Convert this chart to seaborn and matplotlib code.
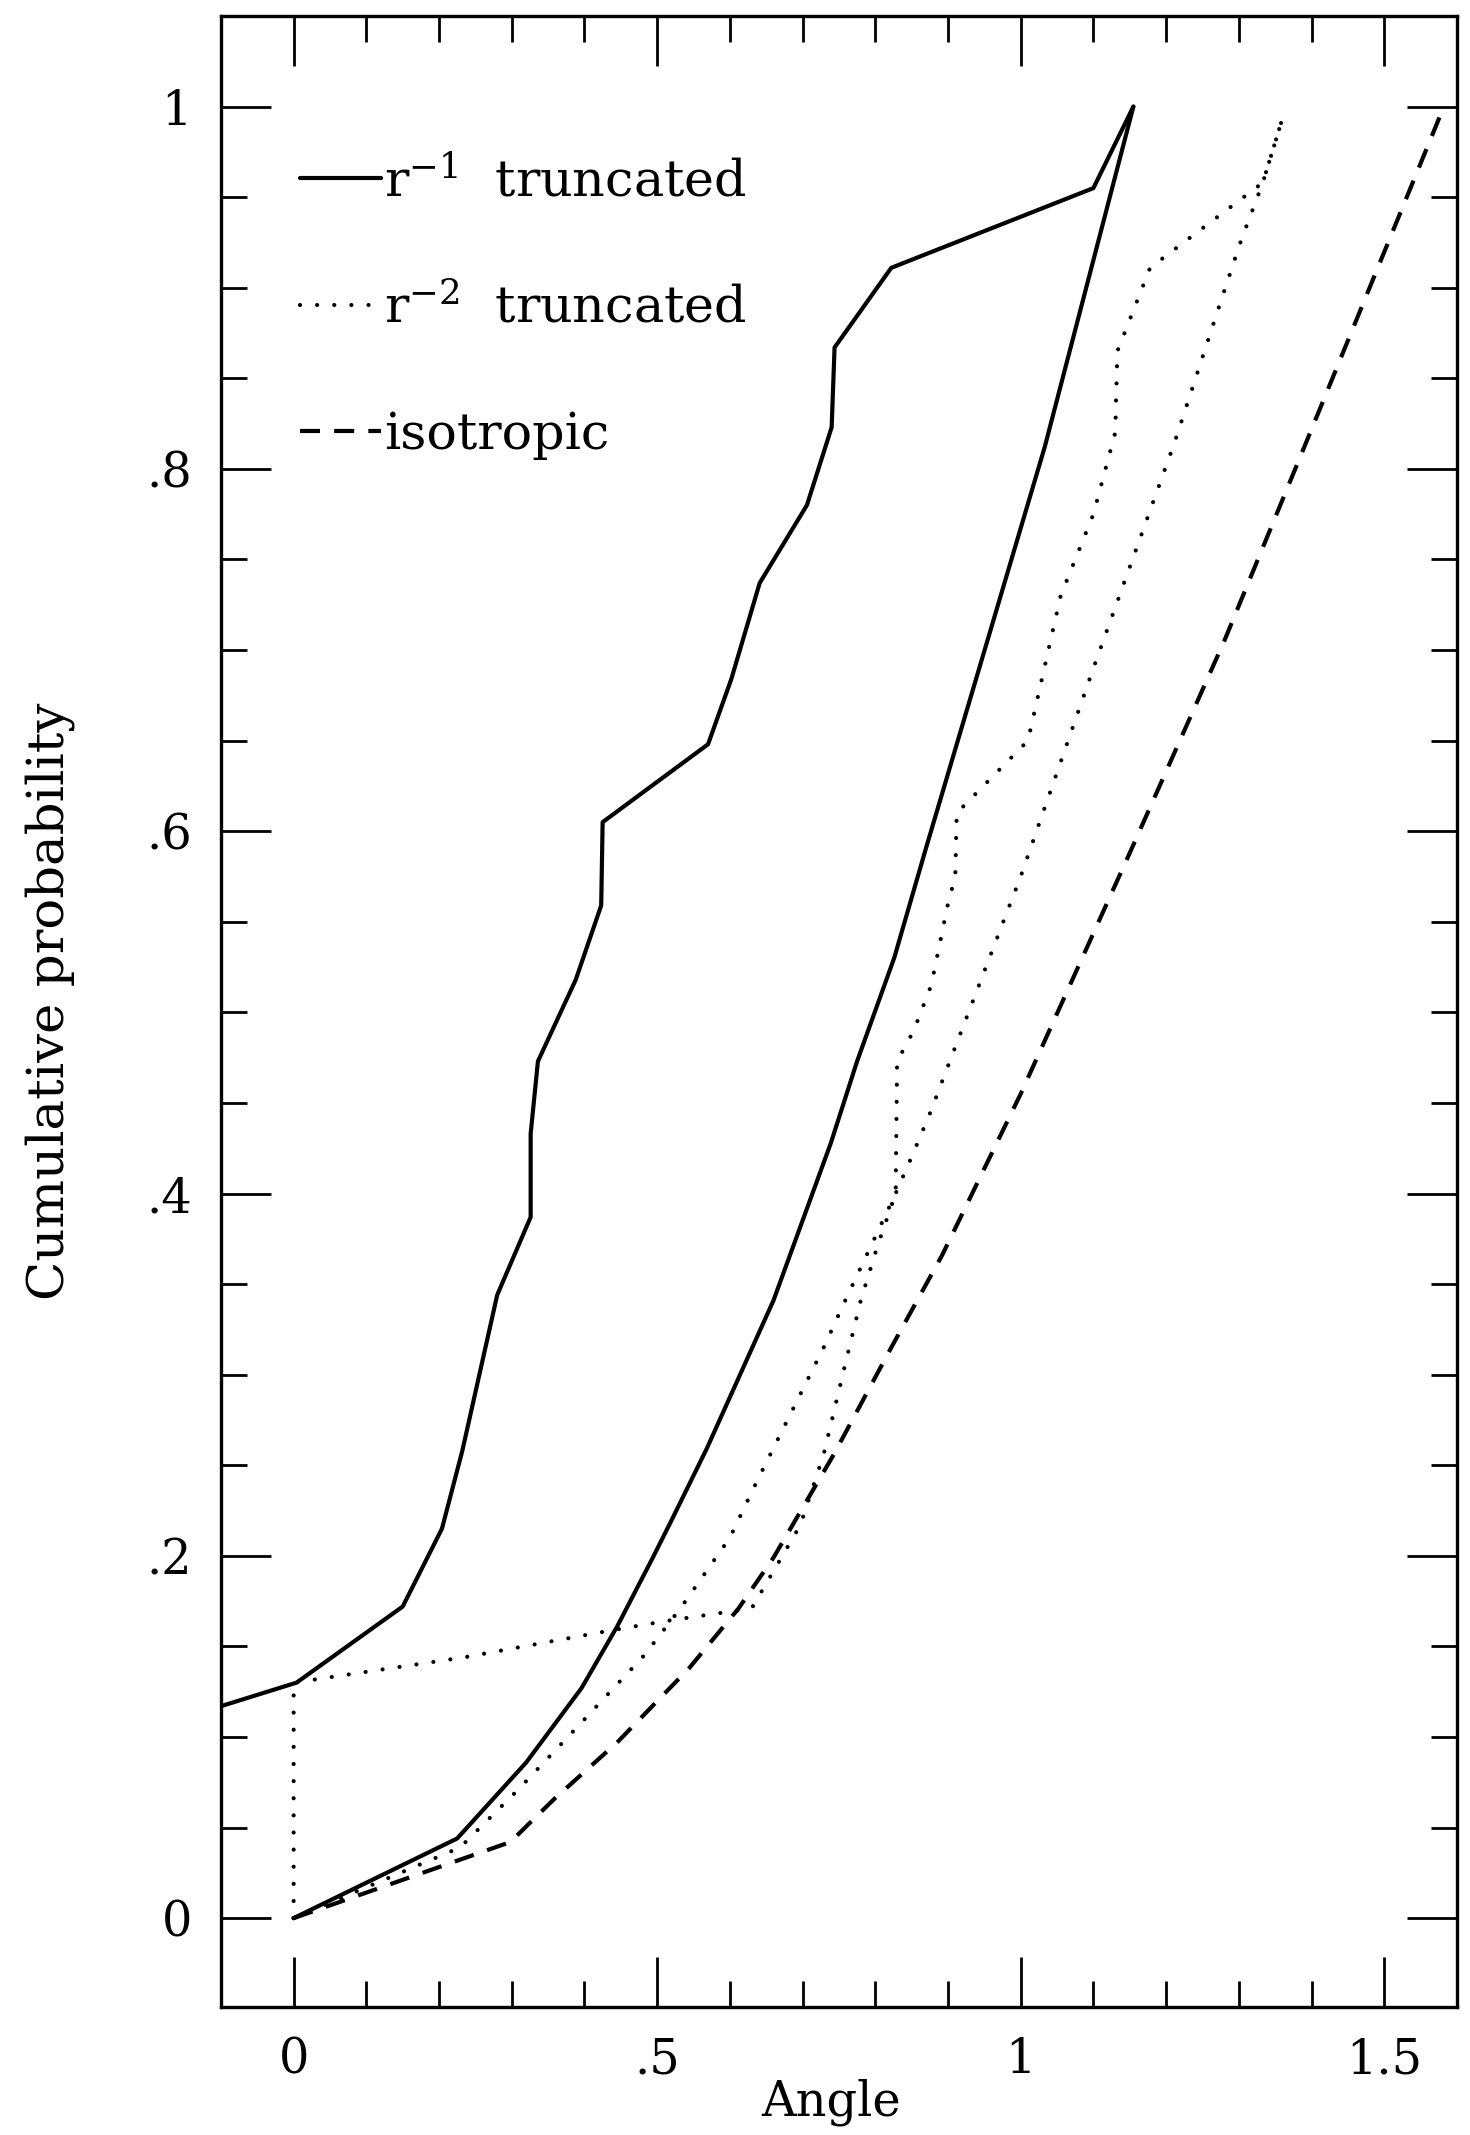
import matplotlib
matplotlib.use("Agg")
import matplotlib.pyplot as plt
from matplotlib.ticker import MultipleLocator, FuncFormatter
import seaborn as sns

# ---- data ----
# r^-1 truncated, observed (jagged solid)
r1_obs_x = [-0.10, 0.004, 0.150, 0.204, 0.232, 0.280, 0.326, 0.326, 0.336, 0.388, 0.423, 0.425,
            0.570, 0.602, 0.641, 0.706, 0.740, 0.744, 0.822, 1.100, 1.155]
r1_obs_y = [0.117, 0.130, 0.172, 0.215, 0.258, 0.344, 0.387, 0.433, 0.473, 0.518, 0.559, 0.605,
            0.648, 0.684, 0.737, 0.780, 0.823, 0.867, 0.911, 0.955, 1.000]
# r^-1 truncated, model (smooth solid)
r1_mod_x = [0.0, 0.225, 0.320, 0.396, 0.445, 0.494, 0.519, 0.568, 0.660, 0.739, 0.775, 0.826,
            0.870, 1.033, 1.155]
r1_mod_y = [0.0, 0.044, 0.086, 0.127, 0.161, 0.199, 0.219, 0.259, 0.341, 0.428, 0.473, 0.530,
            0.591, 0.812, 1.000]
# r^-2 truncated, model (smooth dotted)
r2_mod_x = [0.0, 0.229, 0.309, 0.396, 0.482, 0.532, 0.600, 0.637, 0.683, 0.729, 0.761, 0.794,
            0.828, 0.853, 0.877, 0.892, 1.000, 1.100, 1.212, 1.274, 1.303, 1.333, 1.362]
r2_mod_y = [0.0, 0.039, 0.071, 0.108, 0.145, 0.171, 0.210, 0.241, 0.278, 0.315, 0.343, 0.371,
            0.400, 0.423, 0.446, 0.462, 0.575, 0.690, 0.815, 0.891, 0.926, 0.958, 0.996]
# r^-2 truncated, observed (jagged dotted)
r2_obs_x = [0.0, 0.0, 0.235, 0.439, 0.512, 0.630, 0.697, 0.729, 0.757, 0.780, 0.803, 0.828,
            0.830, 0.853, 0.877, 0.900, 0.910, 0.912, 1.010, 1.055, 1.100, 1.130, 1.133, 1.178,
            1.333, 1.362]
r2_obs_y = [0.0, 0.130, 0.144, 0.159, 0.164, 0.171, 0.217, 0.256, 0.303, 0.341, 0.371, 0.400,
            0.473, 0.490, 0.515, 0.560, 0.575, 0.610, 0.650, 0.730, 0.775, 0.820, 0.865, 0.911,
            0.958, 0.996]
# isotropic (dashed)
iso_x = [0.0, 0.298, 0.359, 0.445, 0.544, 0.612, 0.660, 0.743, 0.822, 0.892, 1.000, 1.150,
         1.280, 1.392, 1.578]
iso_y = [0.0, 0.042, 0.066, 0.097, 0.138, 0.171, 0.199, 0.256, 0.315, 0.366, 0.455, 0.588,
         0.705, 0.814, 0.996]

labels = [r"r$^{-1}$  truncated", r"r$^{-2}$  truncated", "isotropic"]
x_ticks = [0, 0.5, 1, 1.5]
y_ticks = [0, 0.2, 0.4, 0.6, 0.8, 1.0]

# ---- style ----
sns.set_style("white")
plt.rcParams["font.family"] = ["DejaVu Serif"]
plt.rcParams["mathtext.fontset"] = "dejavuserif"
for key in ["text.color", "axes.labelcolor", "xtick.color", "ytick.color", "axes.edgecolor"]:
    plt.rcParams[key] = "black"

FS = 34.5
FS_LEG = 36.5
FS_YLAB = 37
LW = 3.0
dot_style = (0, (0.01, 4.1))
dash_style = (0, (4.8, 3.4))

fig = plt.figure(figsize=(14.7, 21.35), dpi=100)
ax = fig.add_axes([0.1503, 0.0600, 0.8408, 0.9325])

common = dict(ax=ax, color="black", estimator=None, sort=False, linewidth=LW)
sns.lineplot(x=r1_obs_x, y=r1_obs_y, linestyle="-", **common)
sns.lineplot(x=r1_mod_x, y=r1_mod_y, linestyle="-", **common)
sns.lineplot(x=r2_obs_x, y=r2_obs_y, linestyle=dot_style, dash_capstyle="round", **common)
sns.lineplot(x=r2_mod_x, y=r2_mod_y, linestyle=dot_style, dash_capstyle="round", **common)
sns.lineplot(x=iso_x, y=iso_y, linestyle=dash_style, dash_capstyle="butt", **common)

lines = ax.get_lines()
handles = [lines[0], lines[2], lines[4]]

ax.set_xlim(-0.1, 1.6)
ax.set_ylim(-0.049, 1.050)


def fmt(v, pos):
    s = f"{v:g}"
    if s.startswith("0."):
        s = s[1:]
    return s


ax.xaxis.set_major_locator(plt.FixedLocator(x_ticks))
ax.xaxis.set_minor_locator(MultipleLocator(0.1))
ax.yaxis.set_major_locator(plt.FixedLocator(y_ticks))
ax.yaxis.set_minor_locator(MultipleLocator(0.05))
ax.xaxis.set_major_formatter(FuncFormatter(fmt))
ax.yaxis.set_major_formatter(FuncFormatter(fmt))

ax.tick_params(which="both", direction="in", top=True, right=True, bottom=True, left=True,
               labeltop=False, labelright=False, labelbottom=True, labelleft=True,
               color="black", labelcolor="black", width=2.0)
ax.tick_params(which="major", length=36, labelsize=FS, pad=21)
ax.tick_params(which="minor", length=18.5)

for sp in ax.spines.values():
    sp.set_visible(True)
    sp.set_linewidth(2.4)
    sp.set_color("black")

ax.set_xlabel("Angle", fontsize=FS, color="black")
ax.set_ylabel("Cumulative probability", fontsize=FS_YLAB, color="black")
ax.xaxis.set_label_coords(0.494, -0.036)
ax.yaxis.set_label_coords(-0.118, 0.505)

leg = ax.legend(handles=handles, labels=labels, loc="upper left",
                bbox_to_anchor=(0.064, 0.929), frameon=False, fontsize=FS_LEG,
                handlelength=1.6, handletextpad=0.05, labelspacing=1.52,
                borderpad=0, borderaxespad=0)
for t in leg.get_texts():
    t.set_color("black")

fig.savefig("out.png", dpi=100)
